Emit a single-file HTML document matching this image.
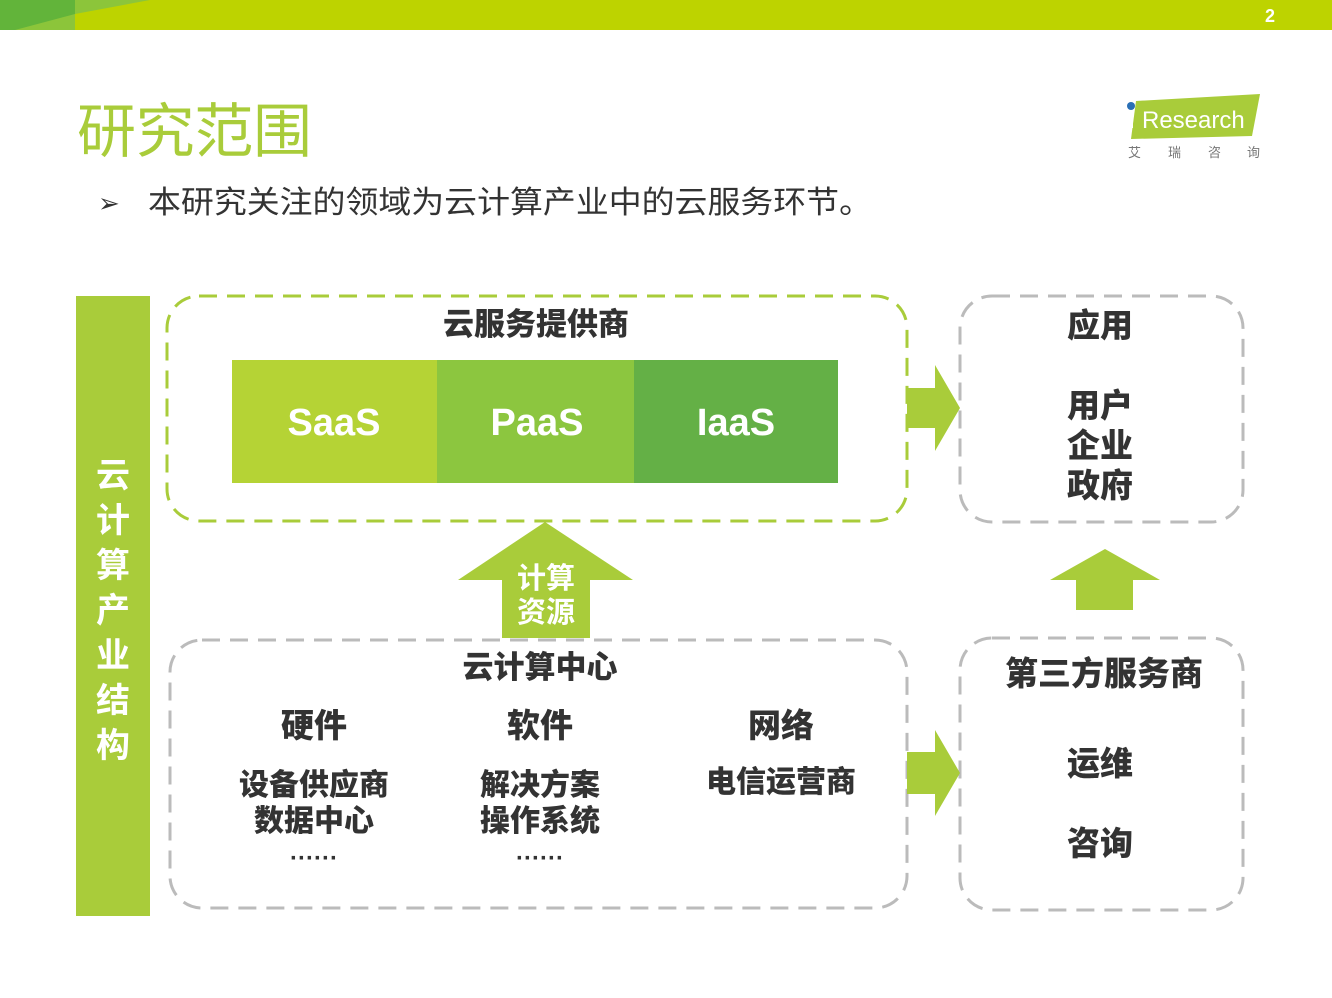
<!DOCTYPE html>
<html><head><meta charset="utf-8"><style>
body{margin:0;background:#fff;}
svg{display:block;}
text{font-family:"Liberation Sans","Noto Sans CJK SC",sans-serif;}
</style></head><body>
<svg width="1332" height="998" viewBox="0 0 1332 998" xmlns="http://www.w3.org/2000/svg">
<rect x="0" y="0" width="1332" height="30" fill="#bdd300"/>
<polygon points="0,0 75,0 75,30 0,30" fill="#62b43a"/>
<polygon points="15,30 75,14 75,30" fill="#8cc53a"/>
<polygon points="75,0 150,0 75,14" fill="#8cc53a"/>
<text x="1270" y="22" fill="#fff" font-size="18" font-weight="bold" text-anchor="middle">2</text>

<text x="77" y="152" fill="#a9cc3a" font-size="59" font-family="Noto Sans CJK SC" textLength="235">研究范围</text>
<text x="98" y="212" fill="#333" font-size="26">➢</text>
<text x="148" y="213" fill="#333" font-size="31" font-family="Noto Sans CJK SC" textLength="724" lengthAdjust="spacingAndGlyphs">本研究关注的领域为云计算产业中的云服务环节。</text>

<!-- logo -->
<polygon points="1136,101 1260,94 1252,136 1131,139" fill="#a9cc3a"/>
<circle cx="1131" cy="106" r="4" fill="#2a6fb5"/>
<rect x="1129" y="112" width="4" height="16" fill="#fff"/>
<text x="1142" y="128" fill="#fff" font-size="24">Research</text>
<text x="1128" y="157" fill="#777" font-size="13" font-family="Noto Sans CJK SC">艾</text>
<text x="1168" y="157" fill="#777" font-size="13" font-family="Noto Sans CJK SC">瑞</text>
<text x="1208" y="157" fill="#777" font-size="13" font-family="Noto Sans CJK SC">咨</text>
<text x="1247" y="157" fill="#777" font-size="13" font-family="Noto Sans CJK SC">询</text>

<!-- vertical bar -->
<rect x="76" y="296" width="74" height="620" fill="#a9cc3a"/>
<g fill="#fff" font-size="34" font-weight="bold" text-anchor="middle" font-family="Noto Sans CJK SC">
<text x="113" y="487">云</text><text x="113" y="532">计</text><text x="113" y="577">算</text>
<text x="113" y="622">产</text><text x="113" y="667">业</text><text x="113" y="712">结</text><text x="113" y="757">构</text>
</g>

<!-- boxes -->
<rect x="167" y="296" width="740" height="225" rx="32" fill="none" stroke="#a9cc3a" stroke-width="3" stroke-dasharray="18,10"/>
<rect x="960" y="296" width="283" height="226" rx="32" fill="none" stroke="#bbb" stroke-width="3" stroke-dasharray="18,10"/>
<rect x="170" y="640" width="737" height="268" rx="32" fill="none" stroke="#bbb" stroke-width="3" stroke-dasharray="18,10"/>
<rect x="960" y="638" width="283" height="272" rx="32" fill="none" stroke="#bbb" stroke-width="3" stroke-dasharray="18,10"/>

<g font-family="Noto Sans CJK SC" font-weight="900" text-anchor="middle" fill="#333">
<text x="536" y="335" font-size="31">云服务提供商</text>
<text x="1100" y="337" font-size="33">应用</text>
<text x="1100" y="417" font-size="33">用户</text>
<text x="1100" y="457" font-size="33">企业</text>
<text x="1100" y="497" font-size="33">政府</text>
<text x="540" y="678" font-size="31">云计算中心</text>
<text x="314" y="737" font-size="33">硬件</text>
<text x="540" y="737" font-size="33">软件</text>
<text x="781" y="737" font-size="33">网络</text>
<text x="314" y="795" font-size="30">设备供应商</text>
<text x="314" y="831" font-size="30">数据中心</text>
<text x="314" y="866" font-size="24">······</text>
<text x="540" y="795" font-size="30">解决方案</text>
<text x="540" y="831" font-size="30">操作系统</text>
<text x="540" y="866" font-size="24">······</text>
<text x="781" y="792" font-size="30">电信运营商</text>
<text x="1104" y="685" font-size="33">第三方服务商</text>
<text x="1100" y="775" font-size="33">运维</text>
<text x="1100" y="855" font-size="33">咨询</text>
</g>

<rect x="232" y="360" width="205" height="123" fill="#b5d335"/>
<rect x="437" y="360" width="197" height="123" fill="#8cc63f"/>
<rect x="634" y="360" width="204" height="123" fill="#64b046"/>
<g fill="#fff" font-size="38" font-weight="bold" text-anchor="middle">
<text x="334" y="435">SaaS</text><text x="537" y="435">PaaS</text><text x="736" y="435">IaaS</text>
</g>

<!-- arrows -->
<polygon points="907,388 935,388 935,365 960,408 935,451 935,428 907,428" fill="#a9cc3a"/>
<polygon points="907,752 935,752 935,730 960,773 935,816 935,794 907,794" fill="#a9cc3a"/>
<polygon points="545,522 633,580 590,580 590,638 502,638 502,580 458,580" fill="#a9cc3a"/>
<polygon points="1105,549 1160,580 1133,580 1133,610 1076,610 1076,580 1050,580" fill="#a9cc3a"/>
<g fill="#fff" font-size="29" font-weight="bold" text-anchor="middle" font-family="Noto Sans CJK SC">
<text x="546" y="588">计算</text><text x="546" y="622">资源</text>
</g>
</svg>
</body></html>
